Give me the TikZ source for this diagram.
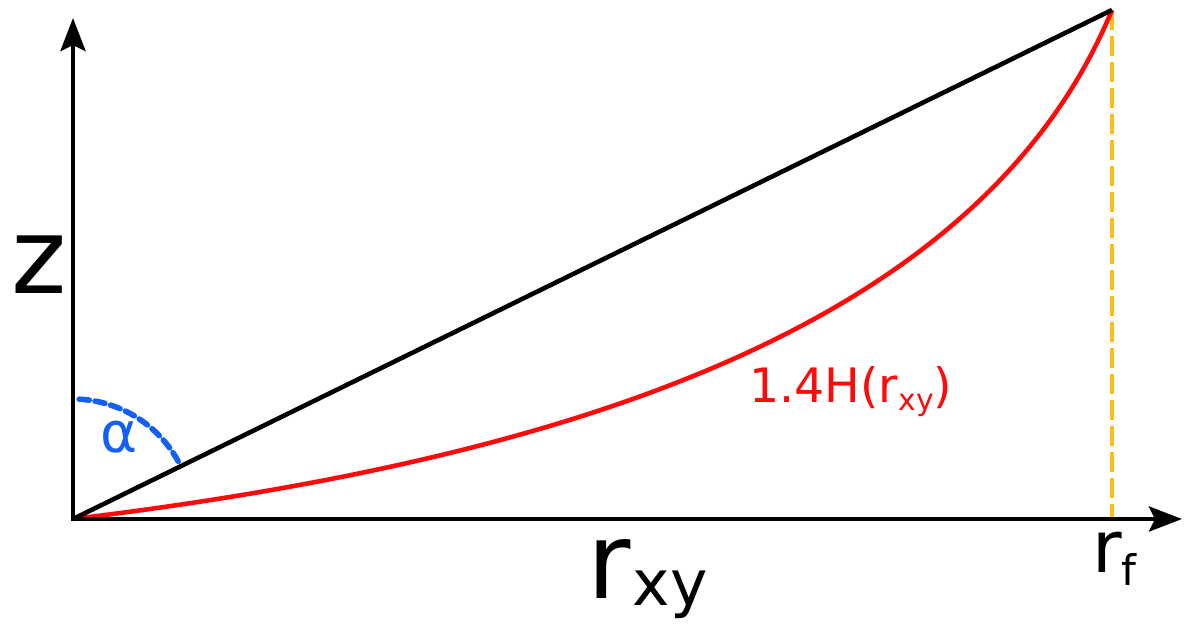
\documentclass[tikz,border=0pt]{standalone}
\usepackage{fontspec}
\setmainfont{DejaVu Sans}
\usetikzlibrary{arrows.meta}
\definecolor{curvered}{RGB}{255,10,10}
\definecolor{angleblue}{RGB}{20,95,245}
\definecolor{markorange}{RGB}{255,190,20}
\tikzset{
  axis/.style={line width=2.5pt, -{Stealth[length=0.66cm,width=0.5cm,inset=0.12cm]}},
  chord/.style={line width=2.6pt, black},
  hcurve/.style={line width=2.6pt, curvered},
  anglearc/.style={line width=3.2pt, angleblue, line cap=round, dash pattern=on 0.2cm off 0.12cm},
  marker/.style={line width=1.8pt, markorange, dash pattern=on 0.4cm off 0.12cm},
  lbl/.style={inner sep=0pt, anchor=base west},
}
\begin{document}
\begin{tikzpicture}[x=0.02cm,y=-0.02cm]
\useasboundingbox (0,0) rectangle (1200,636);
\coordinate (O) at (73,519);
\coordinate (Ytip) at (73,18);
\coordinate (Xtip) at (1182,519);
\coordinate (F) at (1112,10);
\coordinate (Fb) at (1112,519);
\coordinate (C1) at (560,460);
\coordinate (C2) at (980,330);
% orange dashed marker
\draw[marker] (F) -- (Fb);
% red curve
\draw[hcurve] (O) .. controls (C1) and (C2) .. (F);
% black chord
\draw[chord] (O) -- (F);
% axes
\draw[axis] ([yshift=-1.2pt]O) -- (Ytip);
\draw[axis] ([xshift=-1.2pt]O) -- (Xtip);
% angle arc
\draw[anglearc] ([shift={(87:2.4cm)}]O) arc[start angle=87, end angle=28, radius=2.4cm];
% labels
\node[lbl] (z) at (11,293) {\fontsize{60}{60}\selectfont z};
\node[lbl] (rxy) at (587,598) {\fontsize{60}{60}\selectfont r\kern0.02em\raisebox{-0.14cm}{\fontsize{36}{36}\selectfont xy}};
\node[lbl] (rf) at (1092,572) {\fontsize{41}{41}\selectfont r\raisebox{-0.26cm}{\fontsize{24}{24}\selectfont f}};
\node[lbl, text=curvered] (hl) at (749,402) {\fontsize{27}{27}\selectfont 1.4H(r\raisebox{-0.16cm}{\fontsize{17}{17}\selectfont xy})};
\node[lbl, text=angleblue] (al) at (100,452) {\fontsize{32}{32}\selectfont α};
\end{tikzpicture}
\end{document}
